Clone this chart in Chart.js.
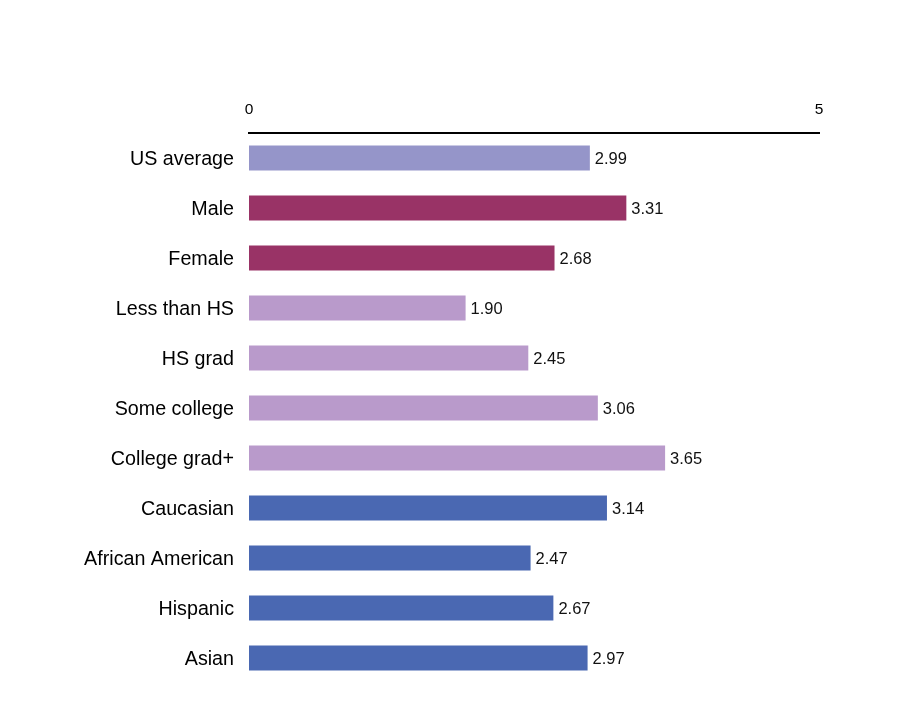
<!DOCTYPE html>
<html>
<head>
<meta charset="utf-8">
<script src="https://cdn.jsdelivr.net/npm/chart.js@4/dist/chart.umd.min.js"></script>
<style>
  html, body { margin: 0; padding: 0; background: #fff; }
  #wrap { width: 920px; height: 725px; }
</style>
</head>
<body>
<div id="wrap"><canvas id="chart"></canvas></div>
<script>
// Data
const categories = ['US average', 'Male', 'Female', 'Less than HS', 'HS grad', 'Some college',
  'College grad+', 'Caucasian', 'African American', 'Hispanic', 'Asian'];
const values = [2.99, 3.31, 2.68, 1.90, 2.45, 3.06, 3.65, 3.14, 2.47, 2.67, 2.97];
const groups = ['avg', 'gender', 'gender', 'edu', 'edu', 'edu', 'edu', 'race', 'race', 'race', 'race'];
const xTicks = [0, 5];

const groupColors = { avg: '#9595c9', gender: '#993366', edu: '#b99acb', race: '#4a68b2' };

// value labels to the right of each bar
const valueLabels = {
  id: 'valueLabels',
  afterDatasetsDraw(chart) {
    const ctx = chart.ctx;
    const meta = chart.getDatasetMeta(0);
    ctx.save();
    ctx.font = '16.5px "Liberation Sans", Arial, sans-serif';
    ctx.fillStyle = '#111';
    ctx.textAlign = 'left';
    ctx.textBaseline = 'middle';
    meta.data.forEach((bar, i) => {
      ctx.fillText(values[i].toFixed(2), bar.x + 5, bar.y + 1);
    });
    ctx.restore();
  }
};

new Chart(document.getElementById('chart').getContext('2d'), {
  type: 'bar',
  data: {
    labels: categories,
    datasets: [{
      data: values,
      backgroundColor: groups.map(g => groupColors[g]),
      barPercentage: 0.5,
      categoryPercentage: 1.0
    }]
  },
  options: {
    indexAxis: 'y',
    responsive: true,
    maintainAspectRatio: false,
    animation: false,
    layout: { padding: { left: 0, right: 101, top: 80, bottom: 42 } },
    plugins: { legend: { display: false }, tooltip: { enabled: false } },
    scales: {
      x: {
        position: 'top',
        min: 0,
        max: 5,
        afterBuildTicks(axis) { axis.ticks = xTicks.map(v => ({ value: v })); },
        afterFit(axis) { axis.height = 53; },
        grid: { display: false, drawTicks: false },
        border: { display: true, color: '#000', width: 2 },
        ticks: {
          padding: 14,
          color: '#000',
          font: { family: '"Liberation Sans", Arial, sans-serif', size: 15.5 }
        }
      },
      y: {
        afterFit(axis) { axis.width = 249; },
        grid: { display: false, drawTicks: false },
        border: { display: false },
        ticks: {
          padding: 15,
          labelOffset: 2,
          color: '#000',
          font: { family: '"Liberation Sans", Arial, sans-serif', size: 19.7 }
        }
      }
    }
  },
  plugins: [valueLabels]
});
</script>
</body>
</html>
